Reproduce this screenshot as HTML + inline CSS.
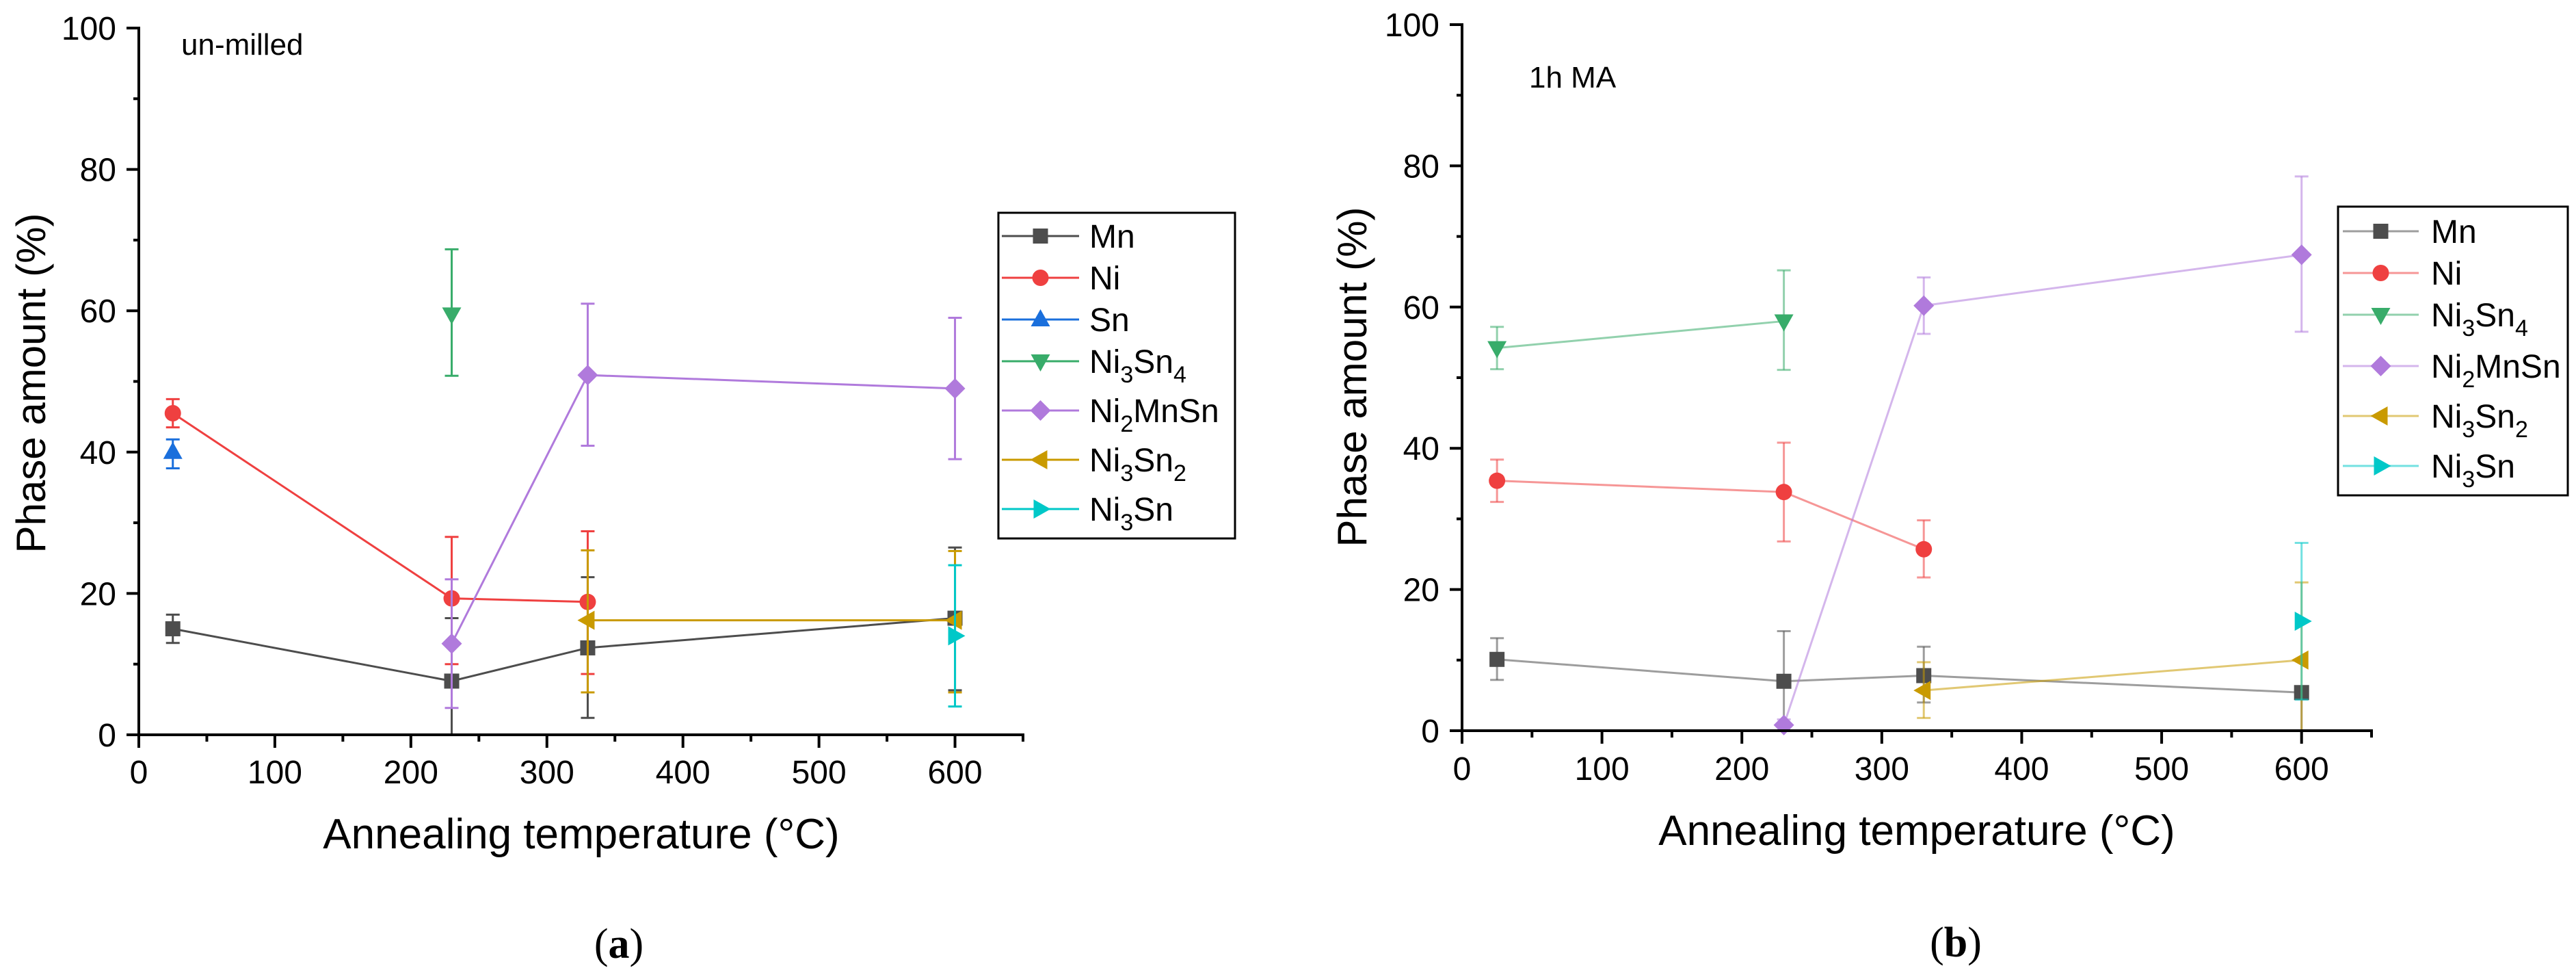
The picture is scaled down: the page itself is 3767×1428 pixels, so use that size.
<!DOCTYPE html>
<html><head><meta charset="utf-8"><style>
html,body{margin:0;padding:0;background:#fff;}
svg{display:block;font-family:"Liberation Sans",Arial,sans-serif;}
</style></head><body>
<svg id="fig" width="3767" height="1428" viewBox="0 0 3767 1428" xmlns="http://www.w3.org/2000/svg">
<rect width="3767" height="1428" fill="#fff"/>
</svg>
<script>
// ---------- data ----------
const temps = [25, 230, 330, 600];
const seriesNames = ["Mn","Ni","Sn","Ni3Sn4","Ni2MnSn","Ni3Sn2","Ni3Sn"];
const xTicks = [0,100,200,300,400,500,600];
const yTicks = [0,20,40,60,80,100];
// panel a (un-milled): value / low / high, null = absent
const aMn = [15.0, 7.6, 12.3, 16.5];
const aMnLo = [13.0, 0.0, 2.4, 6.3];
const aMnHi = [17.0, 16.5, 22.3, 26.5];
const aNi = [45.5, 19.3, 18.8, null];
const aNiLo = [43.5, 10.0, 8.6, null];
const aNiHi = [47.5, 28.0, 28.8, null];
const aSn = [40.0, null, null, null];
const aSnLo = [37.7, null, null, null];
const aSnHi = [41.8, null, null, null];
const aNi3Sn4 = [null, 59.5, null, null];
const aNi3Sn4Lo = [null, 50.8, null, null];
const aNi3Sn4Hi = [null, 68.7, null, null];
const aNi2MnSn = [null, 12.9, 50.9, 49.0];
const aNi2MnSnLo = [null, 3.8, 40.9, 39.0];
const aNi2MnSnHi = [null, 22.0, 61.0, 59.0];
const aNi3Sn2 = [null, null, 16.2, 16.2];
const aNi3Sn2Lo = [null, null, 6.0, 6.0];
const aNi3Sn2Hi = [null, null, 26.1, 26.0];
const aNi3Sn = [null, null, null, 14.0];
const aNi3SnLo = [null, null, null, 4.0];
const aNi3SnHi = [null, null, null, 24.0];
// panel b (1h MA)
const bMn = [10.1, 7.0, 7.8, 5.4];
const bMnLo = [7.2, 0.0, 4.0, 0.0];
const bMnHi = [13.1, 14.1, 11.9, 5.4];
const bNi = [35.4, 33.8, 25.7, null];
const bNiLo = [32.4, 26.8, 21.7, null];
const bNiHi = [38.4, 40.8, 29.8, null];
const bNi3Sn4 = [54.2, 58.0, null, null];
const bNi3Sn4Lo = [51.2, 51.1, null, null];
const bNi3Sn4Hi = [57.2, 65.2, null, null];
const bNi2MnSn = [null, 0.8, 60.2, 67.4];
const bNi2MnSnLo = [null, 0.0, 56.2, 56.5];
const bNi2MnSnHi = [null, 1.6, 64.2, 78.5];
const bNi3Sn2 = [null, null, 5.7, 10.0];
const bNi3Sn2Lo = [null, null, 1.8, 0.0];
const bNi3Sn2Hi = [null, null, 9.7, 21.0];
const bNi3Sn = [null, null, null, 15.5];
const bNi3SnLo = [null, null, null, 4.4];
const bNi3SnHi = [null, null, null, 26.6];

const NS = "http://www.w3.org/2000/svg";
const svg = document.getElementById('fig');
const colors = {Mn:"#4d4d4d",Ni:"#ef4040",Sn:"#1a6fdc",Ni3Sn4:"#38ac6a",Ni2MnSn:"#b07adc",Ni3Sn2:"#c99a00",Ni3Sn:"#00c8c8"};
const markers = {Mn:"square",Ni:"circle",Sn:"up",Ni3Sn4:"down",Ni2MnSn:"diamond",Ni3Sn2:"left",Ni3Sn:"right"};

function el(tag, attrs, parent){
  const e = document.createElementNS(NS, tag);
  for (const k in attrs) e.setAttribute(k, attrs[k]);
  (parent||svg).appendChild(e);
  return e;
}
function marker(g, type, x, y, color){
  let m;
  if (type==="square") m = el('rect',{x:x-11,y:y-11,width:22,height:22,fill:color},g);
  else if (type==="circle") m = el('circle',{cx:x,cy:y,r:12,fill:color},g);
  else if (type==="up") m = el('polygon',{points:`${x},${y-15} ${x+14},${y+10} ${x-14},${y+10}`,fill:color},g);
  else if (type==="down") m = el('polygon',{points:`${x},${y+15} ${x+14},${y-10} ${x-14},${y-10}`,fill:color},g);
  else if (type==="diamond") m = el('polygon',{points:`${x},${y-15} ${x+15},${y} ${x},${y+15} ${x-15},${y}`,fill:color},g);
  else if (type==="left") m = el('polygon',{points:`${x-15},${y} ${x+10},${y-14} ${x+10},${y+14}`,fill:color},g);
  else m = el('polygon',{points:`${x+15},${y} ${x-10},${y-14} ${x-10},${y+14}`,fill:color},g);
  
  
  return m;
}
function legendLabel(g, name, x, y){
  const t = el('text',{x:x,y:y+17,'font-size':48,fill:'#000'},g);
  
  
  const parts = name.match(/[A-Za-z]+|\d+/g);
  let sub = false;
  parts.forEach(p=>{
    const ts = el('tspan',{},t);
    if (/\d/.test(p)) { ts.setAttribute('font-size',34); ts.setAttribute('dy',sub?0:14); sub=true; }
    else { if (sub){ ts.setAttribute('dy',-14);} sub=false; }
    ts.textContent = p;
  });
}

function panel(cfg){
  const g = el('g',{});
  
  
  const X = v => cfg.x0 + (v/650)*(cfg.x1-cfg.x0);
  const Y = v => cfg.y0 - (v/100)*(cfg.y0-cfg.y100);
  const op = cfg.faded ? 0.55 : 1;
  cfg.series.forEach(s=>{
    const sg = el('g',{},g);
    
    
    const c = colors[s.key];
    const pts = [];
    s.v.forEach((v,i)=>{ if(v!==null) pts.push([X(temps[i]),Y(v)]); });
    if (pts.length>1){
      const pl = el('polyline',{points:pts.map(p=>p.join(',')).join(' '),fill:'none',stroke:c,'stroke-width':3,'stroke-opacity':op},sg);
      
      
    }
    s.v.forEach((v,i)=>{
      if (v===null) return;
      const x = X(temps[i]);
      const eb = el('g',{stroke:c,'stroke-width':3,'stroke-opacity':op},sg);
      
      
      el('line',{x1:x,x2:x,y1:Y(s.lo[i]),y2:Y(s.hi[i])},eb);
      el('line',{x1:x-10,x2:x+10,y1:Y(s.lo[i]),y2:Y(s.lo[i])},eb);
      el('line',{x1:x-10,x2:x+10,y1:Y(s.hi[i]),y2:Y(s.hi[i])},eb);
      marker(sg, markers[s.key], x, Y(v), c);
    });
  });
  const ax = el('g',{stroke:'#000','stroke-width':4},g);
  
  
  el('line',{x1:cfg.x0,x2:cfg.x0,y1:cfg.y100-2,y2:cfg.y0+19},ax);
  el('line',{x1:cfg.x0-18,x2:cfg.x1+2,y1:cfg.y0,y2:cfg.y0},ax);
  for (let v=0; v<=100; v+=10){
    const len = v%20===0 ? 18 : 8;
    el('line',{x1:cfg.x0-len,x2:cfg.x0,y1:Y(v),y2:Y(v)},ax);
  }
  for (let v=0; v<=650; v+=50){
    const len = v%100===0 ? 19 : 10;
    el('line',{x1:X(v),x2:X(v),y1:cfg.y0,y2:cfg.y0+len},ax);
  }
  yTicks.forEach(v=>{
    const t = el('text',{x:cfg.x0-33,y:Y(v)+17,'font-size':48,'text-anchor':'end'},g);
    
    
    t.textContent = v;
  });
  xTicks.forEach(v=>{
    const t = el('text',{x:X(v),y:cfg.tickY,'font-size':48,'text-anchor':'middle'},g);
    
    
    t.textContent = v;
  });
  const xt = el('text',{x:cfg.xTitleX,y:cfg.xTitleY,'font-size':62,'text-anchor':'middle'},g);
  
  
  xt.textContent = 'Annealing temperature (°C)';
  const yt = el('text',{x:0,y:0,'font-size':60,'text-anchor':'middle',transform:`translate(${cfg.yTitleX},${cfg.yTitleY}) rotate(-90)`},g);
  
  
  yt.textContent = 'Phase amount (%)';
  const an = el('text',{x:cfg.annX,y:cfg.annY,'font-size':44},g);
  
  
  an.textContent = cfg.ann;
  const cap = el('text',{x:cfg.capX,y:cfg.capY,'font-size':62,'text-anchor':'middle','font-family':'"Liberation Serif",serif'},g);
  
  
  cap.innerHTML = '(<tspan font-weight="bold">'+cfg.cap+'</tspan>)';
  const lg = el('g',{},g);
  
  
  el('rect',{x:cfg.lg.x,y:cfg.lg.y,width:cfg.lg.w,height:cfg.lg.h,fill:'#fff',stroke:'#000','stroke-width':3},lg);
  cfg.series.forEach((s,i)=>{
    const e = el('g',{},lg);
    
    
    const y = cfg.lg.rows[i];
    el('line',{x1:cfg.lg.lx1,x2:cfg.lg.lx2,y1:y,y2:y,stroke:colors[s.key],'stroke-width':3,'stroke-opacity':op},e);
    marker(e, markers[s.key], (cfg.lg.lx1+cfg.lg.lx2)/2, y, colors[s.key]);
    legendLabel(e, s.key, cfg.lg.tx, y);
  });
}

panel({name:'panel-a-unmilled', x0:203, x1:1496, y0:1074, y100:41, faded:false,
  tickY:1145, xTitleX:850, xTitleY:1240, yTitleX:66, yTitleY:560,
  ann:'un-milled', annX:265, annY:80, cap:'a', capX:905, capY:1400,
  lg:{x:1460,y:311,w:346,h:476,lx1:1465,lx2:1578,tx:1593,rows:[345,406,467,528,600,672,744]},
  series:[
    {key:'Mn',v:aMn,lo:aMnLo,hi:aMnHi},
    {key:'Ni',v:aNi,lo:aNiLo,hi:aNiHi},
    {key:'Sn',v:aSn,lo:aSnLo,hi:aSnHi},
    {key:'Ni3Sn4',v:aNi3Sn4,lo:aNi3Sn4Lo,hi:aNi3Sn4Hi},
    {key:'Ni2MnSn',v:aNi2MnSn,lo:aNi2MnSnLo,hi:aNi2MnSnHi},
    {key:'Ni3Sn2',v:aNi3Sn2,lo:aNi3Sn2Lo,hi:aNi3Sn2Hi},
    {key:'Ni3Sn',v:aNi3Sn,lo:aNi3SnLo,hi:aNi3SnHi}
  ]});

panel({name:'panel-b-1h-ma', x0:2138, x1:3468, y0:1068, y100:36, faded:true,
  tickY:1140, xTitleX:2803, xTitleY:1235, yTitleX:1998, yTitleY:551,
  ann:'1h MA', annX:2236, annY:128, cap:'b', capX:2860, capY:1398,
  lg:{x:3419,y:302,w:336,h:422,lx1:3426,lx2:3537,tx:3555,rows:[338,399,460,535,608,681]},
  series:[
    {key:'Mn',v:bMn,lo:bMnLo,hi:bMnHi},
    {key:'Ni',v:bNi,lo:bNiLo,hi:bNiHi},
    {key:'Ni3Sn4',v:bNi3Sn4,lo:bNi3Sn4Lo,hi:bNi3Sn4Hi},
    {key:'Ni2MnSn',v:bNi2MnSn,lo:bNi2MnSnLo,hi:bNi2MnSnHi},
    {key:'Ni3Sn2',v:bNi3Sn2,lo:bNi3Sn2Lo,hi:bNi3Sn2Hi},
    {key:'Ni3Sn',v:bNi3Sn,lo:bNi3SnLo,hi:bNi3SnHi}
  ]});
</script>
</body></html>
